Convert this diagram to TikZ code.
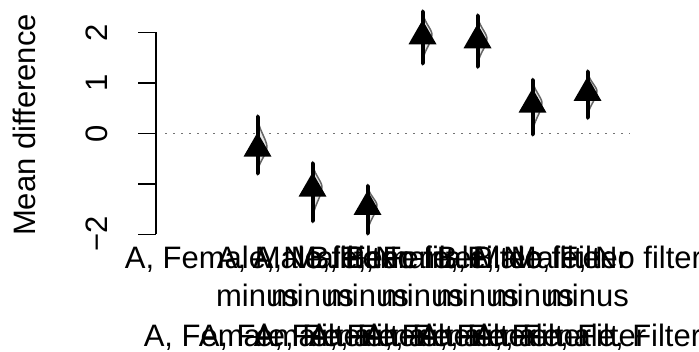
\documentclass[tikz,border=0pt]{standalone}
\usepackage{fontspec}
\setmainfont{Liberation Sans}
\tikzset{
  axisline/.style={line width=1.5pt, line cap=butt},
  zeroline/.style={black!55, line width=1.6pt, dash pattern=on 1.6pt off 6.4pt},
  ci/.style={line width=4pt, line cap=round},
  violin/.style={fill=gray!18, draw=black!60, line width=1.5pt, line join=round},
  tri/.style={fill=black},
  lab/.style={anchor=base, inner sep=0pt, font=\fontsize{31}{37}\selectfont},
  ticklab/.style={anchor=base, inner sep=0pt, rotate=90, font=\fontsize{31}{37}\selectfont},
}
\newcommand\mdpt[4]{% x, y, top, bottom
  \draw[violin] (#1,#3) .. controls (#1,{#3+0.4*(#2-#3)}) and ({#1+9},{#2-0.3*(#2-#3)}) .. ({#1+9.5},{#2-2})
     .. controls ({#1+9},{#2+0.3*(#4-#2)}) and (#1,{#2+0.5*(#4-#2)}) .. (#1,#4) -- cycle;
  \draw[ci] (#1,{#3+2}) -- (#1,{#4-2});
  \fill[tri] (#1,{#2-16.2}) -- ({#1+14},{#2+8.1}) -- ({#1-14},{#2+8.1}) -- cycle;
}
\begin{document}
\begin{tikzpicture}[x=1pt,y=-1pt]
\useasboundingbox (0,0) rectangle (699,352);
% y axis
\coordinate (atop) at (156,32.5);
\coordinate (abot) at (156,234.3);
\draw[axisline] (atop) -- (abot);
\foreach \v/\yy in {2/32.5,1/82.95,0/133.4,-1/183.85,-2/234.3}{
  \draw[axisline] (138,\yy) -- (156,\yy);
}
\node[ticklab] (t2) at (107,32.5) {2};
\node[ticklab] (t1) at (107,82.95) {1};
\node[ticklab] (t0) at (107,133.4) {0};
\node[ticklab] (tm2) at (107,234.3) {−2};
\node[ticklab] (ylab) at (35,125) {Mean difference};
% zero line
\coordinate (z0) at (165,133.4);
\coordinate (z1) at (630,133.4);
\draw[zeroline] (z0) -- (z1);
% points
\mdpt{257.5}{148.6}{115}{175}
\mdpt{312.5}{188.6}{161.7}{222.7}
\mdpt{367.5}{206.9}{184.3}{235}
\mdpt{422.5}{36.2}{10}{65}
\mdpt{477.5}{40.2}{14}{68.3}
\mdpt{532.5}{104.6}{78.3}{136}
\mdpt{587.5}{92.9}{70}{119.3}
% labels
\foreach \i/\xx/\txt in {1/257.5/{A, Female, No filter},2/312.5/{A, Male, Filter},3/367.5/{A, Male, No filter},4/422.5/{B, Female, Filter},5/477.5/{B, Female, No filter},6/532.5/{B, Male, Filter},7/587.5/{B, Male, No filter}}{
  \node[lab] (la\i) at (\xx,269) {\txt};
  \node[lab] (lb\i) at (\xx,307) {minus};
  \node[lab] (lc\i) at (\xx,347) {A, Female, Filter};
}
\end{tikzpicture}
\end{document}
